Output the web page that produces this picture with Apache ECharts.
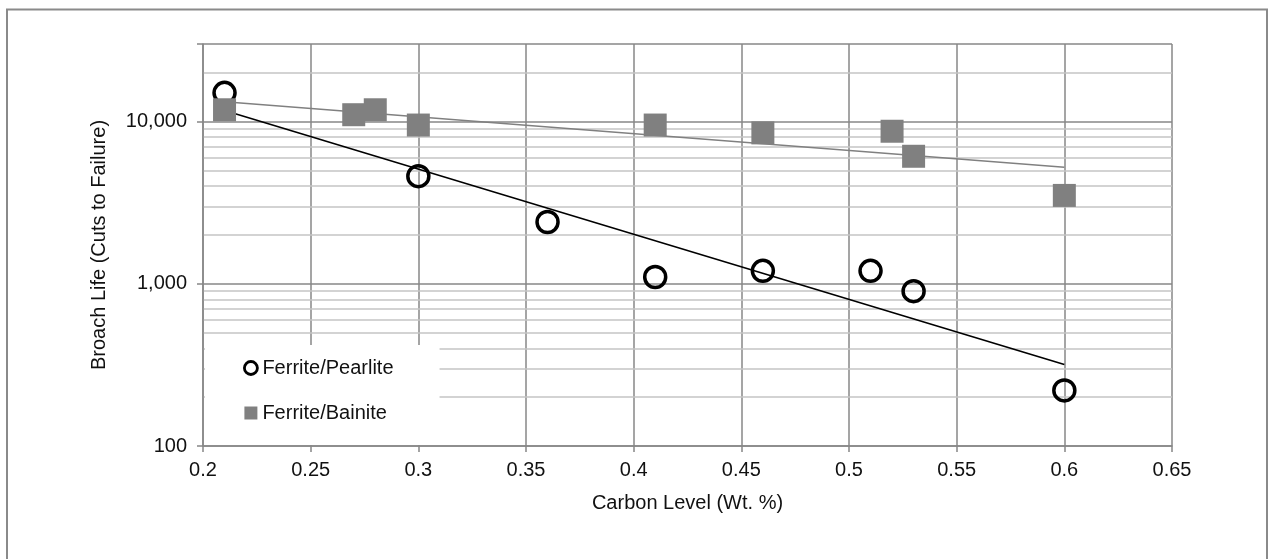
<!DOCTYPE html>
<html><head><meta charset="utf-8">
<script src="https://cdn.jsdelivr.net/npm/echarts@6/dist/echarts.min.js"></script>
<style>html,body{margin:0;padding:0;background:#fff}#c{width:1268px;height:559px}</style>
</head><body><div id="c"></div>
<script>
// ---- data ----
const seriesNames = ['Ferrite/Pearlite', 'Ferrite/Bainite'];
const pearliteCarbon = [0.21, 0.30, 0.36, 0.41, 0.46, 0.51, 0.53, 0.60];
const pearliteLife   = [15000, 4600, 2400, 1100, 1200, 1200, 900, 220];
const bainiteCarbon  = [0.21, 0.27, 0.28, 0.30, 0.41, 0.46, 0.52, 0.53, 0.60];
const bainiteLife    = [11800, 11000, 11800, 9500, 9500, 8500, 8700, 6100, 3500];
const minorGridValues = [200, 300, 400, 500, 600, 700, 800, 900,
                         2000, 3000, 4000, 5000, 6000, 7000, 8000, 9000, 20000];
const xAxisTitle = 'Carbon Level (Wt. %)';
const yAxisTitle = 'Broach Life (Cuts to Failure)';

// exponential trendline (least squares on log values), like Excel
function expTrend(xs, ys) {
  const n = xs.length;
  const ly = ys.map(v => Math.log(v));
  const mx = xs.reduce((a, b) => a + b, 0) / n;
  const my = ly.reduce((a, b) => a + b, 0) / n;
  let sxy = 0, sxx = 0;
  for (let i = 0; i < n; i++) { sxy += (xs[i] - mx) * (ly[i] - my); sxx += (xs[i] - mx) ** 2; }
  const b = sxy / sxx, a = my - b * mx;
  const x0 = Math.min(...xs), x1 = Math.max(...xs);
  return [[x0, Math.exp(a + b * x0)], [x1, Math.exp(a + b * x1)]];
}

const zip = (xs, ys) => xs.map((x, i) => [x, ys[i]]);
const FONT = 'Liberation Sans, Arial, sans-serif';
const FS = 20;
const TXT = '#111';
const MAJOR = '#878787';
const MINOR = '#c4c4c4';

const chart = echarts.init(document.getElementById('c'), null, { renderer: 'canvas' });
chart.setOption({
  animation: false,
  backgroundColor: '#fff',
  textStyle: { fontFamily: FONT },
  graphic: [{
    type: 'rect', silent: true, z: -10,
    shape: { x: 7, y: 9.5, width: 1260, height: 620 },
    style: { fill: 'none', stroke: '#8a8a8a', lineWidth: 2 }
  }],
  grid: { left: 203, right: 96, top: 44, bottom: 113, containLabel: false },
  xAxis: {
    type: 'value', min: 0.2, max: 0.65, interval: 0.05,
    name: xAxisTitle, nameLocation: 'middle', nameGap: 47,
    nameTextStyle: { fontSize: FS, color: TXT, fontFamily: FONT },
    axisLine: { lineStyle: { color: MAJOR, width: 1.5 } },
    axisTick: { show: true, length: 6, lineStyle: { color: MAJOR, width: 1.5 } },
    axisLabel: { fontSize: FS, color: TXT, margin: 14, fontFamily: FONT },
    splitLine: { show: true, lineStyle: { color: MAJOR, width: 1.5 } }
  },
  yAxis: {
    type: 'log', logBase: 10, min: 100, max: 30000,
    name: yAxisTitle, nameLocation: 'middle', nameGap: 94, nameRotate: 90,
    nameTextStyle: { fontSize: FS, color: TXT, fontFamily: FONT },
    axisLine: { show: true, lineStyle: { color: MAJOR, width: 1.5 } },
    axisTick: {
      show: true, length: 6, lineStyle: { color: MAJOR, width: 1.5 },
      interval: (i, v) => { const l = Math.log10(v); return Math.abs(l - Math.round(l)) < 1e-6; }
    },
    axisLabel: {
      fontSize: FS, color: TXT, margin: 16, fontFamily: FONT,
      formatter: v => {
        const l = Math.log10(v);
        return Math.abs(l - Math.round(l)) < 1e-6 ? Math.round(v).toLocaleString('en-US') : '';
      }
    },
    splitLine: { show: true, lineStyle: { color: MAJOR, width: 1.5 } }
  },
  legend: {
    orient: 'vertical', left: 205, top: 345, z: 30,
    backgroundColor: '#fff',
    padding: [13, 46, 22, 38],
    itemWidth: 13, itemHeight: 13, itemGap: 25,
    textStyle: { fontSize: FS, color: TXT, lineHeight: 20, fontFamily: FONT },
    data: [
      { name: seriesNames[0], icon: 'circle', itemStyle: { color: '#fff', borderColor: '#000', borderWidth: 2.8 } },
      { name: seriesNames[1], icon: 'rect', itemStyle: { color: '#808080', borderWidth: 0 } }
    ]
  },
  series: [
    {
      name: 'minor-grid', type: 'line', data: [], silent: true, z: 0,
      markLine: {
        silent: true, symbol: 'none', label: { show: false }, z: 0,
        lineStyle: { color: MINOR, width: 1.5, type: 'solid' },
        data: minorGridValues.map(v => ({ yAxis: v }))
      }
    },
    {
      name: 'pearlite-trend', type: 'line', data: expTrend(pearliteCarbon, pearliteLife),
      showSymbol: false, symbol: 'none', silent: true, z: 3,
      lineStyle: { color: '#000', width: 1.6 }
    },
    {
      name: 'bainite-trend', type: 'line', data: expTrend(bainiteCarbon, bainiteLife),
      showSymbol: false, symbol: 'none', silent: true, z: 3,
      lineStyle: { color: '#808080', width: 1.6 }
    },
    {
      name: seriesNames[0], type: 'scatter', data: zip(pearliteCarbon, pearliteLife), z: 4,
      symbol: 'circle', symbolSize: 21,
      itemStyle: { color: 'rgba(255,255,255,0)', borderColor: '#000', borderWidth: 3.5, opacity: 1 }
    },
    {
      name: seriesNames[1], type: 'scatter', data: zip(bainiteCarbon, bainiteLife), z: 5,
      symbol: 'rect', symbolSize: 23,
      itemStyle: { color: '#808080', opacity: 1 }
    }
  ]
});
</script>
</body></html>
